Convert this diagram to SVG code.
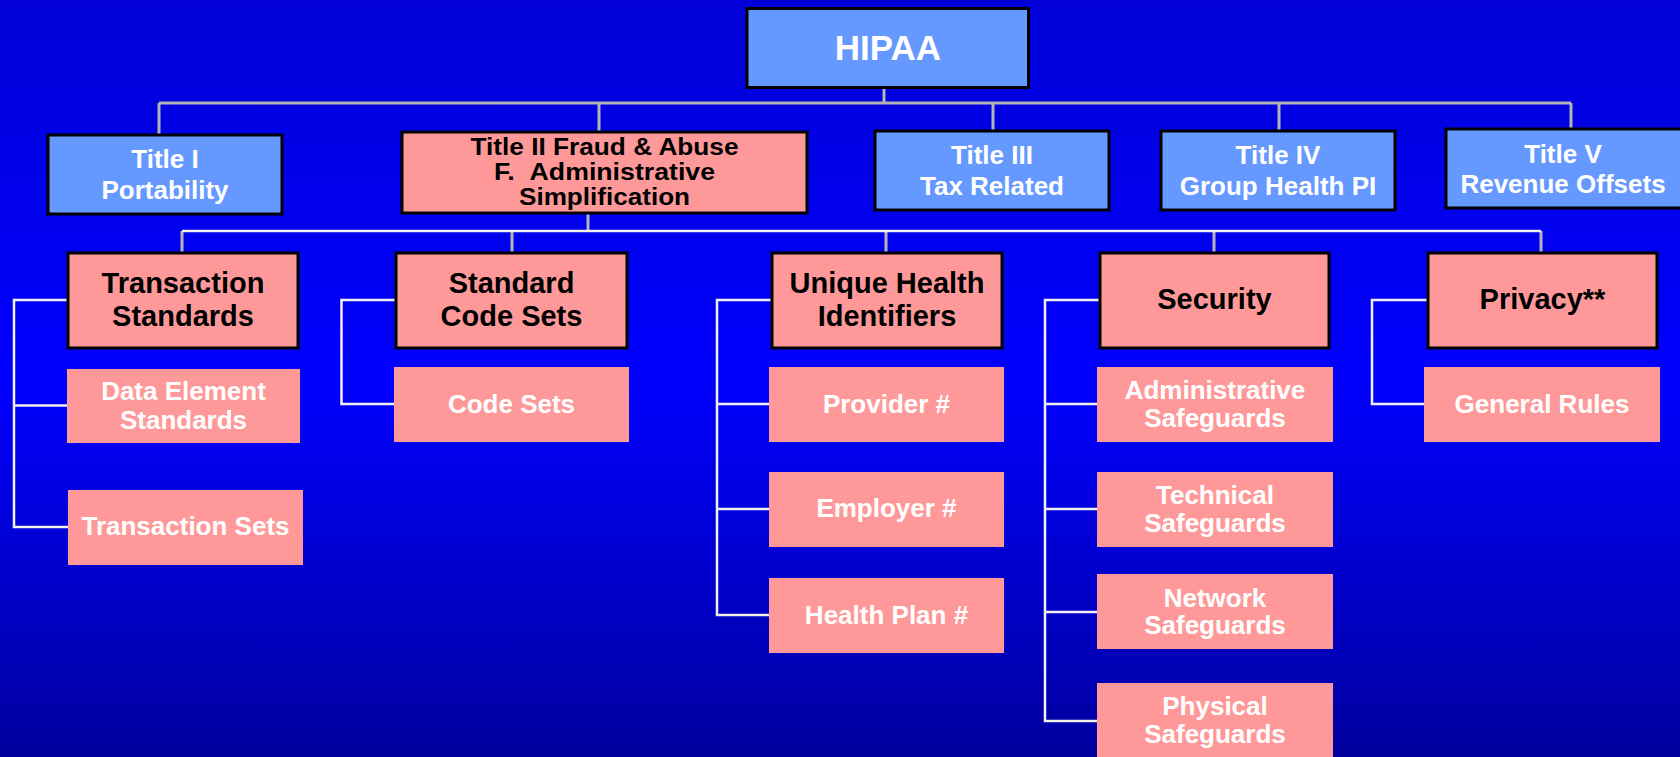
<svg xmlns="http://www.w3.org/2000/svg" width="1680" height="757" viewBox="0 0 1680 757">
<defs>
<linearGradient id="bg" x1="0" y1="0" x2="0" y2="1">
<stop offset="0" stop-color="#0000D6"/>
<stop offset="0.5" stop-color="#0000FF"/>
<stop offset="1" stop-color="#00009E"/>
</linearGradient>
</defs>
<style>
text{font-family:"Liberation Sans",Arial,sans-serif;font-weight:bold;text-anchor:middle}
.blue{fill:#6699FF;stroke:#000;stroke-width:3}
.sal{fill:#FF9999;stroke:#000;stroke-width:3}
.leaf{fill:#FF9999}
.w{fill:#fff}
.k{fill:#000}
.t1{font-size:26px}
.t1b{font-size:23px}
.t2{font-size:29px}
.t3{font-size:26px}
.gl{stroke:#B4B4B4;stroke-width:3;fill:none}
.wl{stroke:#F0F0F0;stroke-width:2.5;fill:none}
</style>
<rect width="1680" height="757" fill="url(#bg)"/>
<g id="connectors">
<path class="gl" d="M884 87V103M159 103H1571M159 103V135M599 103V132M993 103V131M1279 103V131M1571 103V129"/>
<path class="gl" d="M588 213V231M182 231V253M512 231V253M886 231V253M1214 231V253M1541 231V253"/>
<path class="wl" d="M182 231H1541"/>
<path class="wl" d="M68 300H14V527H68M14 405.5H67"/>
<path class="wl" d="M396 300H341.5V404H394"/>
<path class="wl" d="M772 300H717V615H769M717 404H769M717 509H769"/>
<path class="wl" d="M1100 300H1045V721H1097M1045 404H1097M1045 509H1097M1045 612H1097"/>
<path class="wl" d="M1428 300H1372V404H1424"/>
</g>
<g id="hipaa"><rect class="blue" x="747" y="8.5" width="281.5" height="79"/><text class="w" x="888" y="60" font-size="35">HIPAA</text></g>
<g id="title1"><rect class="blue" x="48" y="135" width="234" height="79"/><text class="w t1" x="165" y="168">Title I</text><text class="w t1" x="165" y="199">Portability</text></g>
<g id="title2"><rect class="sal" x="402" y="132" width="405" height="81"/><text class="k t1b" x="604.5" y="155" textLength="268" lengthAdjust="spacingAndGlyphs">Title II Fraud &amp; Abuse</text><text class="k t1b" x="604.5" y="180" textLength="221" lengthAdjust="spacingAndGlyphs">F. &#160;Administrative</text><text class="k t1b" x="604.5" y="205" textLength="171" lengthAdjust="spacingAndGlyphs">Simplification</text></g>
<g id="title3"><rect class="blue" x="875" y="131" width="234" height="79"/><text class="w t1" x="992" y="164">Title III</text><text class="w t1" x="992" y="195">Tax Related</text></g>
<g id="title4"><rect class="blue" x="1161" y="131" width="234" height="79"/><text class="w t1" x="1278" y="164">Title IV</text><text class="w t1" x="1278" y="195">Group Health PI</text></g>
<g id="title5"><rect class="blue" x="1446" y="129" width="236" height="79"/><text class="w t1" x="1563" y="163">Title V</text><text class="w t1" x="1563" y="193">Revenue Offsets</text></g>
<g id="transStd"><rect class="sal" x="68" y="253" width="230" height="95"/><text class="k t2" x="183" y="293">Transaction</text><text class="k t2" x="183" y="325.5">Standards</text></g>
<g id="codeStd"><rect class="sal" x="396" y="253" width="231" height="95"/><text class="k t2" x="511.5" y="293">Standard</text><text class="k t2" x="511.5" y="325.5">Code Sets</text></g>
<g id="uhi"><rect class="sal" x="772" y="253" width="230" height="95"/><text class="k t2" x="887" y="293">Unique Health</text><text class="k t2" x="887" y="325.5">Identifiers</text></g>
<g id="security"><rect class="sal" x="1100" y="253" width="229" height="95"/><text class="k t2" x="1214.5" y="309">Security</text></g>
<g id="privacy"><rect class="sal" x="1428" y="253" width="229" height="95"/><text class="k t2" x="1542.5" y="309">Privacy**</text></g>
<g id="dataElem"><rect class="leaf" x="67" y="369" width="233" height="74"/><text class="w t3" x="183.5" y="400">Data Element</text><text class="w t3" x="183.5" y="429">Standards</text></g>
<g id="transSets"><rect class="leaf" x="68" y="490" width="235" height="75"/><text class="w t3" x="185.5" y="535">Transaction Sets</text></g>
<g id="codeSets"><rect class="leaf" x="394" y="367" width="235" height="75"/><text class="w t3" x="511.5" y="413">Code Sets</text></g>
<g id="provider"><rect class="leaf" x="769" y="367" width="235" height="75"/><text class="w t3" x="886.5" y="413">Provider #</text></g>
<g id="employer"><rect class="leaf" x="769" y="472" width="235" height="75"/><text class="w t3" x="886.5" y="517">Employer #</text></g>
<g id="healthPlan"><rect class="leaf" x="769" y="578" width="235" height="75"/><text class="w t3" x="886.5" y="624">Health Plan #</text></g>
<g id="adminSafe"><rect class="leaf" x="1097" y="367" width="236" height="75"/><text class="w t3" x="1215" y="399">Administrative</text><text class="w t3" x="1215" y="427">Safeguards</text></g>
<g id="techSafe"><rect class="leaf" x="1097" y="472" width="236" height="75"/><text class="w t3" x="1215" y="504">Technical</text><text class="w t3" x="1215" y="532">Safeguards</text></g>
<g id="netSafe"><rect class="leaf" x="1097" y="574" width="236" height="75"/><text class="w t3" x="1215" y="606.5">Network</text><text class="w t3" x="1215" y="634">Safeguards</text></g>
<g id="physSafe"><rect class="leaf" x="1097" y="683" width="236" height="80"/><text class="w t3" x="1215" y="715">Physical</text><text class="w t3" x="1215" y="742.5">Safeguards</text></g>
<g id="general"><rect class="leaf" x="1424" y="367" width="236" height="75"/><text class="w t3" x="1542" y="412.5">General Rules</text></g>
</svg>
